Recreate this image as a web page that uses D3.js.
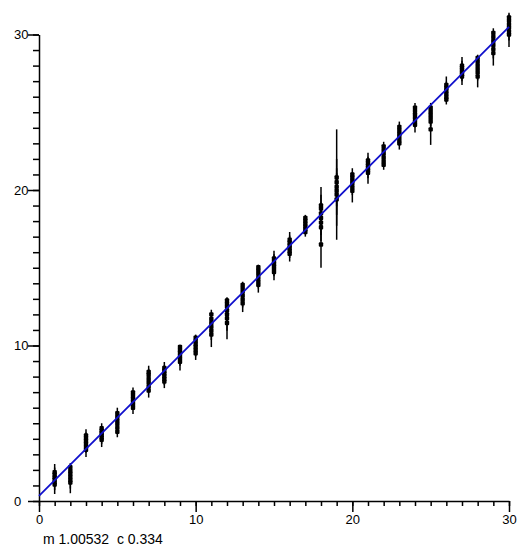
<!DOCTYPE html>
<html>
<head>
<meta charset="utf-8">
<script src="https://cdn.jsdelivr.net/npm/d3@7"></script>
<style>
  body { margin: 0; background: #fff; }
  svg text { font-family: "Liberation Sans", Arial, sans-serif; }
</style>
</head>
<body>
<div id="main"></div>
<script>
// x positions of the measurement groups
const xValues = d3.range(1, 31);

// measured values at each x (one inner list per x)
const yValues = [
  [1.05, 1.2, 1.38, 1.52, 1.7, 1.86],
  [1.18, 1.35, 1.55, 1.75, 1.95, 2.18],
  [3.3, 3.5, 3.7, 3.88, 4.05, 4.22],
  [3.93, 4.08, 4.22, 4.38, 4.52, 4.68],
  [4.45, 4.7, 4.95, 5.18, 5.42, 5.65],
  [6.0, 6.2, 6.4, 6.6, 6.8, 6.98],
  [7.1, 7.35, 7.6, 7.85, 8.1, 8.3],
  [7.68, 7.85, 8.02, 8.2, 8.38, 8.55],
  [8.95, 9.15, 9.35, 9.55, 9.72, 9.9],
  [9.5, 9.7, 9.9, 10.1, 10.3, 10.5],
  [10.7, 10.95, 11.2, 11.45, 11.7, 12.0],
  [11.45, 11.75, 12.0, 12.25, 12.5, 12.7, 12.9],
  [12.72, 12.95, 13.2, 13.45, 13.68, 13.9],
  [13.9, 14.12, 14.35, 14.6, 14.82, 15.03],
  [14.72, 14.9, 15.08, 15.25, 15.42, 15.6],
  [15.9, 16.08, 16.26, 16.44, 16.62, 16.8],
  [17.3, 17.48, 17.66, 17.84, 18.02, 18.2],
  [16.5, 17.6, 17.9, 18.2, 18.5, 18.8, 19.0],
  [19.4, 19.7, 19.95, 20.2, 20.5, 20.8],
  [19.95, 20.17, 20.4, 20.6, 20.8, 21.0],
  [21.1, 21.25, 21.42, 21.58, 21.74, 21.9],
  [21.62, 21.85, 22.08, 22.32, 22.56, 22.8],
  [23.0, 23.2, 23.42, 23.63, 23.85, 24.05],
  [24.2, 24.42, 24.64, 24.86, 25.08, 25.3],
  [23.9, 24.4, 24.63, 24.86, 25.08, 25.3],
  [25.82, 26.0, 26.2, 26.38, 26.57, 26.75],
  [27.3, 27.44, 27.58, 27.72, 27.86, 28.0],
  [27.3, 27.55, 27.78, 28.02, 28.26, 28.5],
  [28.8, 29.06, 29.32, 29.58, 29.84, 30.1],
  [30.0, 30.22, 30.44, 30.66, 30.88, 31.1]
];

// error (half length of the bar) for each value above
const yErrors = [
  [0.6, 0.5, 0.45, 0.4, 0.45, 0.52],
  [0.68, 0.55, 0.5, 0.45, 0.35, 0.26],
  [0.47, 0.4, 0.4, 0.35, 0.35, 0.4],
  [0.46, 0.4, 0.35, 0.35, 0.3, 0.32],
  [0.35, 0.4, 0.4, 0.4, 0.35, 0.35],
  [0.4, 0.35, 0.35, 0.35, 0.3, 0.32],
  [0.45, 0.4, 0.4, 0.4, 0.4, 0.4],
  [0.42, 0.4, 0.35, 0.35, 0.35, 0.39],
  [0.55, 0.45, 0.4, 0.35, 0.3, 0.15],
  [0.43, 0.4, 0.35, 0.35, 0.3, 0.2],
  [0.8, 0.6, 0.5, 0.45, 0.4, 0.3],
  [1.05, 0.8, 0.6, 0.5, 0.45, 0.35, 0.2],
  [0.57, 0.5, 0.45, 0.4, 0.35, 0.2],
  [0.5, 0.45, 0.4, 0.35, 0.3, 0.17],
  [0.52, 0.45, 0.45, 0.45, 0.45, 0.5],
  [0.5, 0.45, 0.45, 0.45, 0.45, 0.5],
  [0.3, 0.3, 0.3, 0.3, 0.25, 0.2],
  [1.5, 0.9, 0.8, 0.7, 0.7, 0.9, 1.2],
  [2.6, 1.3, 1.0, 0.9, 0.9, 3.1],
  [0.75, 0.5, 0.45, 0.4, 0.35, 0.4],
  [0.7, 0.5, 0.45, 0.4, 0.4, 0.5],
  [0.32, 0.35, 0.3, 0.3, 0.3, 0.3],
  [0.4, 0.35, 0.35, 0.35, 0.35, 0.35],
  [0.5, 0.4, 0.35, 0.35, 0.3, 0.3],
  [1.0, 0.6, 0.5, 0.4, 0.35, 0.3],
  [0.32, 0.35, 0.35, 0.35, 0.4, 0.55],
  [0.55, 0.45, 0.45, 0.45, 0.45, 0.55],
  [0.7, 0.5, 0.45, 0.4, 0.3, 0.2],
  [0.8, 0.6, 0.5, 0.4, 0.35, 0.3],
  [0.8, 0.6, 0.5, 0.45, 0.4, 0.3]
];

// fitted line y = m x + c
const slope = 1.00532;
const intercept = 0.334;

const majorTicks = [0, 10, 20, 30];
const fitLabel = "m 1.00532  c 0.334";

const width = 531, height = 550;

const svg = d3.select('#main')
  .append('svg')
  .attr('width', width)
  .attr('height', height);

const x = d3.scaleLinear().domain([0, 30]).range([39, 509]);
const y = d3.scaleLinear().domain([0, 30]).range([501, 34.5]);

// flatten the groups into points
const points = [];
xValues.forEach((xv, i) => {
  yValues[i].forEach((yv, j) => {
    points.push({ x: xv, y: yv, err: yErrors[i][j] });
  });
});

// minor ticks
svg.append('g')
  .attr('transform', 'translate(0,' + y(0) + ')')
  .call(d3.axisBottom(x).tickValues(d3.range(0, 31)).tickSize(5).tickFormat('').tickSizeOuter(0))
  .call(g => g.select('.domain').remove());

svg.append('g')
  .attr('transform', 'translate(' + x(0) + ',0)')
  .call(d3.axisLeft(y).tickValues(d3.range(0, 31)).tickSize(6).tickFormat('').tickSizeOuter(0))
  .call(g => g.select('.domain').remove());

// major ticks + domain
const xAxis = svg.append('g')
  .attr('transform', 'translate(0,' + y(0) + ')')
  .call(d3.axisBottom(x).tickValues(majorTicks).tickSize(11).tickSizeOuter(0).tickPadding(3));

const yAxis = svg.append('g')
  .attr('transform', 'translate(' + x(0) + ',0)')
  .call(d3.axisLeft(y).tickValues(majorTicks).tickSize(11).tickSizeOuter(0));

svg.selectAll('.tick line, .domain')
  .attr('stroke', '#000')
  .attr('stroke-width', 1.5);

xAxis.selectAll('text')
  .attr('fill', '#000')
  .attr('font-size', '13px')
  .attr('dy', '0.71em');

// y labels are left aligned in the original
yAxis.selectAll('text')
  .attr('fill', '#000')
  .attr('font-size', '13px')
  .attr('text-anchor', 'start')
  .attr('x', 14 - x(0));

// error bars
svg.append('g')
  .selectAll('line')
  .data(points)
  .enter().append('line')
  .attr('x1', d => x(d.x))
  .attr('x2', d => x(d.x))
  .attr('y1', d => y(d.y - d.err))
  .attr('y2', d => y(d.y + d.err))
  .attr('stroke', '#000')
  .attr('stroke-width', 1.5);

// markers
svg.append('g')
  .selectAll('rect')
  .data(points)
  .enter().append('rect')
  .attr('x', d => x(d.x) - 2.2)
  .attr('y', d => y(d.y) - 2.2)
  .attr('width', 4.4)
  .attr('height', 4.4)
  .attr('rx', 1)
  .attr('fill', '#000');

// fitted line
svg.append('line')
  .attr('x1', x(0))
  .attr('y1', y(intercept))
  .attr('x2', x(30))
  .attr('y2', y(slope * 30 + intercept))
  .attr('stroke', '#1010cc')
  .attr('stroke-width', 1.8);

svg.append('text')
  .attr('x', 43)
  .attr('y', 544)
  .attr('font-size', '14px')
  .attr('fill', '#000')
  .style('white-space', 'pre')
  .text(fitLabel);
</script>
</body>
</html>
